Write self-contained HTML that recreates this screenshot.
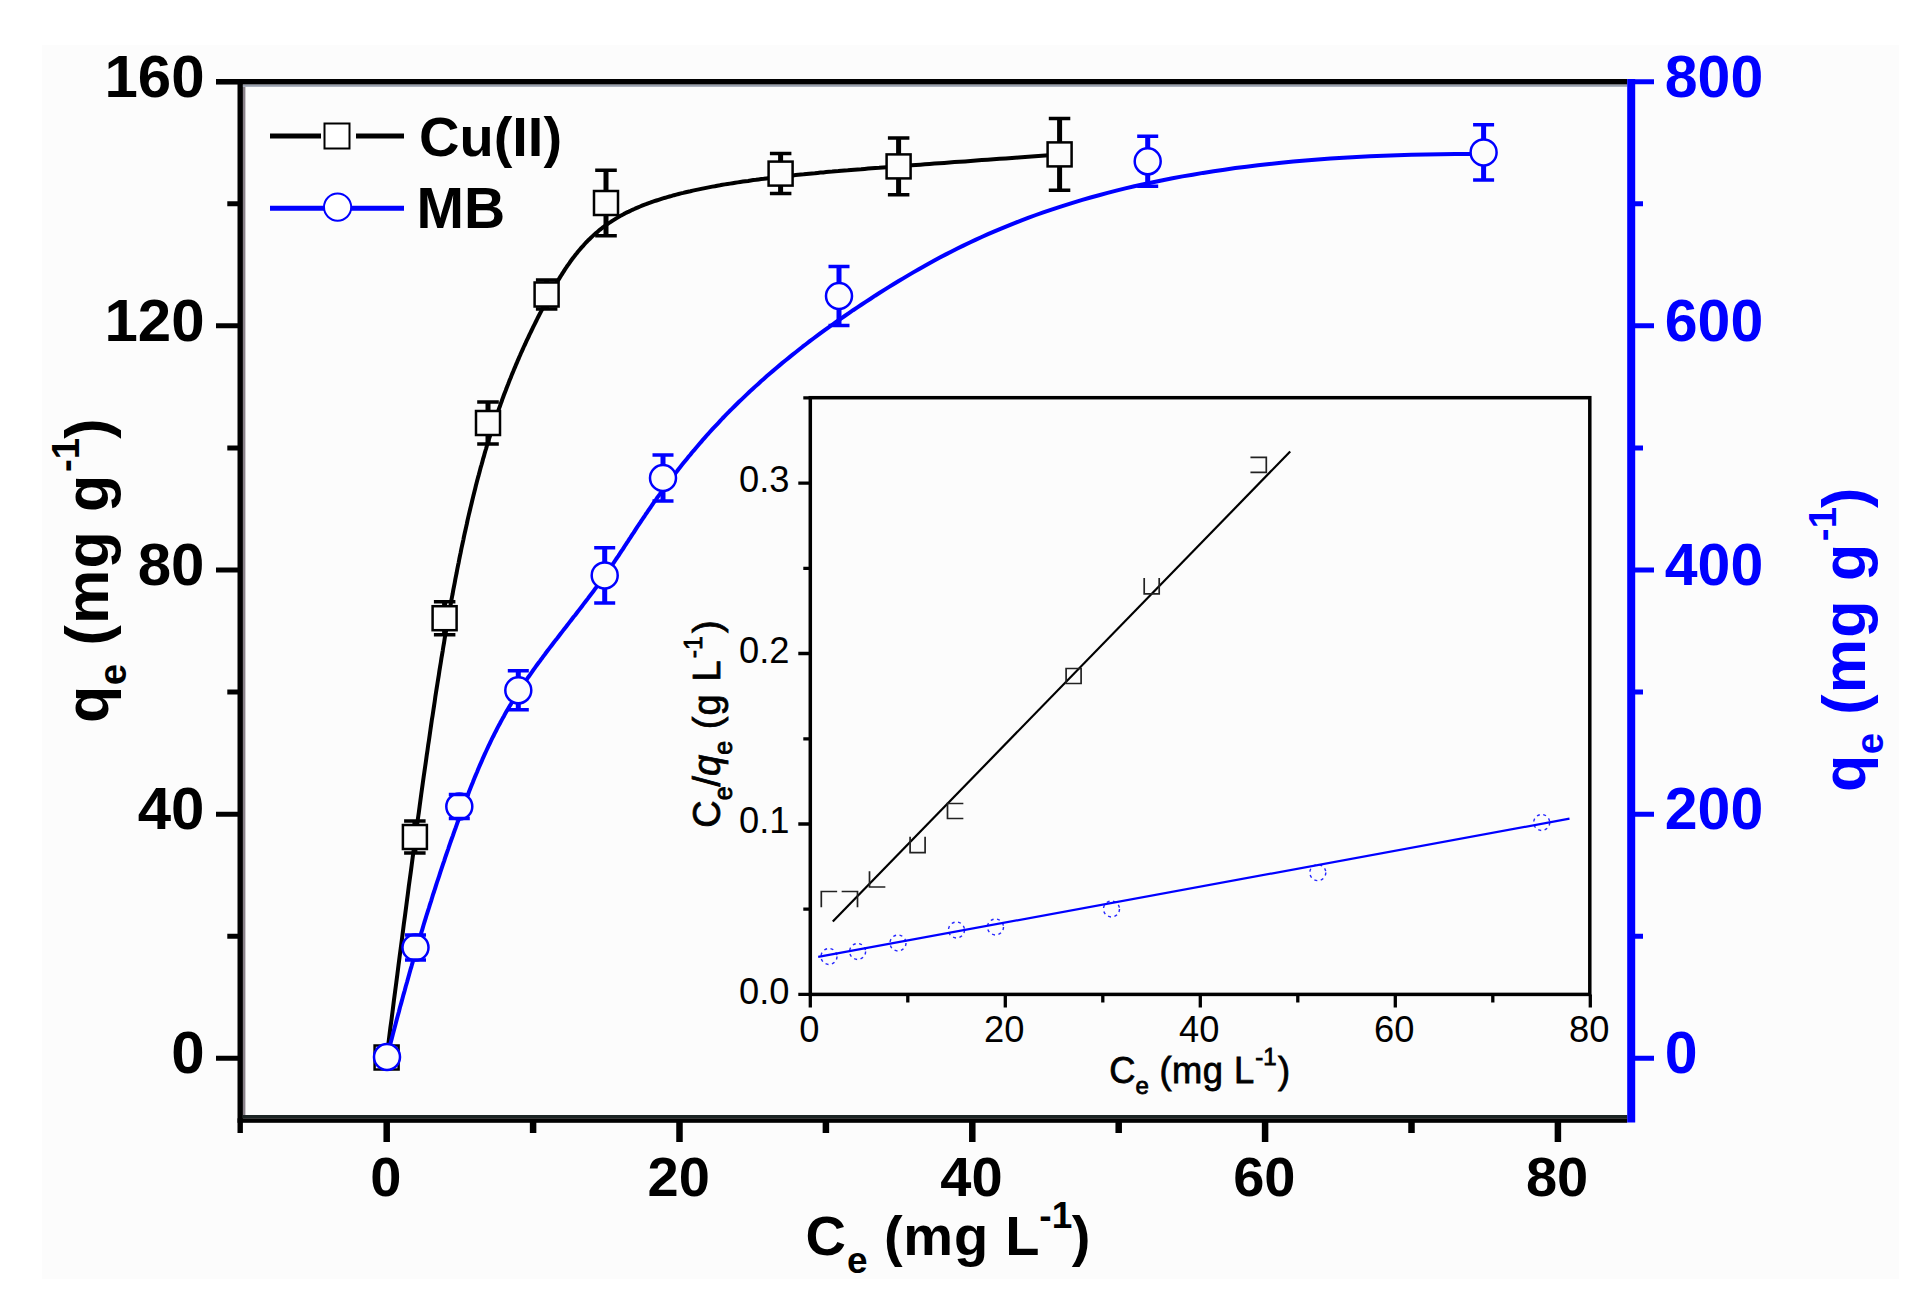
<!DOCTYPE html>
<html><head><meta charset="utf-8"><title>Isotherm</title>
<style>html,body{margin:0;padding:0;background:#fff;overflow:hidden}svg{display:block}</style>
</head><body>
<svg width="1920" height="1310" viewBox="0 0 1920 1310">
<rect width="1920" height="1310" fill="#ffffff"/>
<rect x="42" y="45" width="1857" height="1234" fill="#fcfcfc"/>
<path d="M386.6 1057.5L387.9 1047.6L389.1 1037.9L390.3 1028.3L391.6 1018.9L392.8 1009.6L393.9 1000.5L395.1 991.5L396.3 982.6L397.4 973.9L398.5 965.3L399.6 956.8L400.7 948.5L401.8 940.3L402.8 932.2L403.8 924.2L404.9 916.4L405.9 908.7L406.9 901.1L407.9 893.6L408.8 886.3L409.8 879.0L410.8 871.9L411.7 864.9L412.6 858.0L413.5 851.2L414.4 844.5L415.3 837.9L416.2 831.4L417.1 825.0L417.9 818.7L418.8 812.6L419.6 806.5L420.4 800.4L421.2 794.5L422.0 788.7L422.8 783.0L423.6 777.3L424.4 771.7L425.2 766.2L426.0 760.8L426.7 755.5L427.5 750.3L428.2 745.1L429.0 740.0L429.7 734.9L430.4 730.0L431.1 725.1L431.8 720.2L432.6 715.5L433.3 710.8L434.0 706.1L434.7 701.5L435.3 697.0L436.0 692.5L436.7 688.1L437.4 683.7L438.1 679.4L438.8 675.1L439.4 670.9L440.1 666.7L440.8 662.5L441.4 658.4L442.1 654.3L442.8 650.3L443.4 646.3L444.1 642.3L444.7 638.4L445.4 634.5L446.1 630.6L446.7 626.8L447.4 623.0L448.0 619.2L448.7 615.4L449.4 611.7L450.0 608.0L450.7 604.3L451.3 600.7L452.0 597.0L452.7 593.5L453.3 589.9L454.0 586.4L454.7 582.8L455.3 579.4L456.0 575.9L456.7 572.5L457.3 569.1L458.0 565.7L458.7 562.3L459.3 559.0L460.0 555.7L460.7 552.4L461.3 549.2L462.0 545.9L462.7 542.7L463.4 539.6L464.0 536.4L464.7 533.3L465.4 530.2L466.1 527.1L466.8 524.0L467.4 521.0L468.1 517.9L468.8 514.9L469.5 512.0L470.2 509.0L470.9 506.1L471.6 503.2L472.3 500.3L473.0 497.4L473.7 494.5L474.4 491.7L475.1 488.9L475.8 486.1L476.5 483.3L477.2 480.6L477.9 477.9L478.7 475.1L479.4 472.4L480.1 469.8L480.8 467.1L481.6 464.5L482.3 461.9L483.0 459.2L483.8 456.7L484.5 454.1L485.2 451.5L486.0 449.0L486.7 446.5L487.5 444.0L488.2 441.5L489.0 439.0L489.8 436.6L490.5 434.1L491.3 431.7L492.1 429.3L492.8 426.9L493.6 424.5L494.4 422.1L495.2 419.8L496.0 417.4L496.8 415.1L497.6 412.8L498.4 410.5L499.2 408.2L500.0 406.0L500.8 403.7L501.6 401.5L502.4 399.2L503.2 397.0L504.0 394.8L504.8 392.7L505.7 390.5L506.5 388.3L507.3 386.2L508.2 384.0L509.0 381.9L509.8 379.8L510.7 377.7L511.5 375.6L512.3 373.6L513.2 371.5L514.0 369.5L514.9 367.4L515.7 365.4L516.6 363.4L517.4 361.4L518.3 359.4L519.1 357.4L520.0 355.5L520.8 353.5L521.7 351.6L522.6 349.7L523.4 347.8L524.3 345.8L525.2 344.0L526.0 342.1L526.9 340.2L527.8 338.3L528.7 336.5L529.5 334.6L530.4 332.8L531.3 331.0L532.2 329.2L533.0 327.4L533.9 325.6L534.8 323.8L535.7 322.0L536.6 320.3L537.4 318.5L538.3 316.8L539.2 315.0L540.1 313.3L541.0 311.6L541.9 309.9L542.7 308.2L543.6 306.5L544.5 304.8L545.4 303.2L546.3 301.5L547.2 299.8L548.1 298.2L549.0 296.6L549.8 294.9L550.7 293.3L551.6 291.7L552.5 290.1L553.4 288.5L554.3 286.9L555.2 285.3L556.1 283.8L557.0 282.2L558.0 280.7L558.9 279.1L559.8 277.6L560.7 276.1L561.7 274.6L562.6 273.1L563.6 271.6L564.5 270.1L565.5 268.6L566.5 267.2L567.5 265.7L568.5 264.3L569.5 262.9L570.5 261.4L571.5 260.0L572.5 258.6L573.6 257.3L574.6 255.9L575.7 254.5L576.8 253.2L577.9 251.8L579.0 250.5L580.1 249.2L581.2 247.9L582.4 246.6L583.6 245.3L584.7 244.0L585.9 242.7L587.1 241.5L588.3 240.2L589.6 239.0L590.8 237.8L592.1 236.6L593.4 235.4L594.7 234.2L596.0 233.1L597.4 231.9L598.7 230.8L600.1 229.6L601.5 228.5L602.9 227.4L604.4 226.3L605.9 225.2L607.3 224.2L608.8 223.1L610.4 222.1L611.9 221.1L613.5 220.1L615.1 219.1L616.7 218.1L618.4 217.1L620.0 216.1L621.7 215.2L623.5 214.3L625.2 213.3L627.0 212.4L628.8 211.6L630.6 210.7L632.4 209.8L634.3 209.0L636.2 208.1L638.1 207.3L640.1 206.5L642.0 205.7L644.0 204.9L646.0 204.2L648.1 203.4L650.1 202.7L652.2 201.9L654.3 201.2L656.4 200.5L658.6 199.8L660.7 199.1L662.9 198.4L665.1 197.8L667.3 197.1L669.5 196.5L671.8 195.9L674.0 195.2L676.3 194.6L678.6 194.0L680.9 193.4L683.3 192.9L685.6 192.3L688.0 191.7L690.4 191.2L692.7 190.6L695.1 190.1L697.6 189.6L700.0 189.1L702.4 188.6L704.9 188.1L707.4 187.6L709.8 187.1L712.3 186.6L714.8 186.2L717.3 185.7L719.9 185.3L722.4 184.8L724.9 184.4L727.5 184.0L730.0 183.6L732.6 183.2L735.2 182.8L737.7 182.4L740.3 182.0L742.9 181.6L745.5 181.2L748.1 180.9L750.7 180.5L753.3 180.1L756.0 179.8L758.6 179.4L761.2 179.1L763.8 178.8L766.5 178.4L769.1 178.1L771.8 177.8L774.4 177.5L777.0 177.2L779.7 176.9L782.3 176.5L785.0 176.3L787.6 176.0L790.3 175.7L792.9 175.4L795.6 175.1L798.3 174.8L801.0 174.5L803.7 174.3L806.4 174.0L809.2 173.7L812.0 173.4L814.8 173.2L817.6 172.9L820.4 172.6L823.3 172.4L826.2 172.1L829.2 171.8L832.2 171.6L835.2 171.3L838.3 171.1L841.4 170.8L844.6 170.5L847.8 170.3L851.0 170.0L854.3 169.7L857.7 169.4L861.1 169.2L864.6 168.9L868.1 168.6L871.7 168.3L875.3 168.0L879.1 167.8L882.9 167.5L886.7 167.2L890.6 166.9L894.7 166.6L898.7 166.3L902.9 165.9L907.1 165.6L911.5 165.3L915.9 165.0L920.4 164.7L924.9 164.3L929.6 164.0L934.4 163.6L939.3 163.3L944.2 162.9L949.3 162.5L954.4 162.1L959.7 161.8L965.1 161.4L970.5 161.0L976.1 160.6L981.8 160.1L987.6 159.7L993.5 159.3L999.6 158.8L1005.7 158.4L1012.0 157.9L1018.4 157.5L1025.0 157.0L1031.6 156.5L1038.4 156.0L1045.3 155.5L1052.4 154.9L1059.6 154.4L1059.6 154.4" fill="none" stroke="#000000" stroke-width="4" stroke-linejoin="round"/>
<rect x="374.6" y="1045.5" width="24" height="24" fill="#fcfcfc" stroke="#000" stroke-width="2.5"/>
<rect x="402.9" y="825.0" width="24" height="24" fill="#fcfcfc" stroke="#000" stroke-width="2.5"/>
<rect x="432.6" y="606.2" width="24" height="24" fill="#fcfcfc" stroke="#000" stroke-width="2.5"/>
<rect x="476.0" y="411.0" width="24" height="24" fill="#fcfcfc" stroke="#000" stroke-width="2.5"/>
<rect x="534.6" y="282.5" width="24" height="24" fill="#fcfcfc" stroke="#000" stroke-width="2.5"/>
<rect x="594.0" y="191.0" width="24" height="24" fill="#fcfcfc" stroke="#000" stroke-width="2.5"/>
<rect x="768.6" y="161.6" width="24" height="24" fill="#fcfcfc" stroke="#000" stroke-width="2.5"/>
<rect x="886.6" y="154.4" width="24" height="24" fill="#fcfcfc" stroke="#000" stroke-width="2.5"/>
<rect x="1047.6" y="142.4" width="24" height="24" fill="#fcfcfc" stroke="#000" stroke-width="2.5"/>
<path d="M414.9 821.0V825.0M414.9 849.0V853.0" stroke="#000000" stroke-width="5" fill="none"/>
<path d="M404.1 821.0H425.6M404.1 853.0H425.6" stroke="#000000" stroke-width="3.5" fill="none"/>
<path d="M444.6 601.7V606.2M444.6 630.2V634.7" stroke="#000000" stroke-width="5" fill="none"/>
<path d="M433.9 601.7H455.4M433.9 634.7H455.4" stroke="#000000" stroke-width="3.5" fill="none"/>
<path d="M488.0 402.0V411.0M488.0 435.0V444.0" stroke="#000000" stroke-width="5" fill="none"/>
<path d="M477.2 402.0H498.8M477.2 444.0H498.8" stroke="#000000" stroke-width="3.5" fill="none"/>
<path d="M546.6 280.0V282.5M546.6 306.5V309.0" stroke="#000000" stroke-width="5" fill="none"/>
<path d="M535.9 280.0H557.4M535.9 309.0H557.4" stroke="#000000" stroke-width="3.5" fill="none"/>
<path d="M606.0 170.3V191.0M606.0 215.0V235.7" stroke="#000000" stroke-width="5" fill="none"/>
<path d="M595.2 170.3H616.8M595.2 235.7H616.8" stroke="#000000" stroke-width="3.5" fill="none"/>
<path d="M780.6 153.6V161.6M780.6 185.6V193.6" stroke="#000000" stroke-width="5" fill="none"/>
<path d="M769.9 153.6H791.4M769.9 193.6H791.4" stroke="#000000" stroke-width="3.5" fill="none"/>
<path d="M898.6 138.1V154.4M898.6 178.4V194.7" stroke="#000000" stroke-width="5" fill="none"/>
<path d="M887.9 138.1H909.4M887.9 194.7H909.4" stroke="#000000" stroke-width="3.5" fill="none"/>
<path d="M1059.6 118.6V142.4M1059.6 166.4V190.2" stroke="#000000" stroke-width="5" fill="none"/>
<path d="M1048.8 118.6H1070.3M1048.8 190.2H1070.3" stroke="#000000" stroke-width="3.5" fill="none"/>
<path d="M387.0 1057.0L388.2 1052.3L389.4 1047.6L390.6 1043.0L391.8 1038.4L393.0 1033.8L394.2 1029.3L395.4 1024.8L396.5 1020.4L397.7 1016.0L398.9 1011.7L400.0 1007.3L401.2 1003.1L402.4 998.8L403.5 994.6L404.7 990.5L405.8 986.3L407.0 982.3L408.1 978.2L409.2 974.2L410.3 970.2L411.5 966.3L412.6 962.4L413.7 958.5L414.8 954.7L415.9 950.9L417.0 947.1L418.1 943.4L419.2 939.7L420.3 936.0L421.4 932.4L422.5 928.8L423.5 925.3L424.6 921.7L425.7 918.2L426.7 914.8L427.8 911.4L428.9 908.0L429.9 904.6L431.0 901.3L432.0 898.0L433.0 894.7L434.1 891.5L435.1 888.3L436.1 885.1L437.1 882.0L438.2 878.8L439.2 875.8L440.2 872.7L441.2 869.7L442.2 866.7L443.2 863.7L444.2 860.8L445.1 857.9L446.1 855.0L447.1 852.1L448.1 849.3L449.0 846.5L450.0 843.7L450.9 841.0L451.9 838.3L452.9 835.6L453.8 832.9L454.7 830.3L455.7 827.7L456.6 825.1L457.5 822.5L458.5 820.0L459.4 817.4L460.3 814.9L461.2 812.5L462.1 810.0L463.0 807.6L463.9 805.2L464.8 802.8L465.7 800.5L466.6 798.1L467.5 795.8L468.4 793.5L469.2 791.3L470.1 789.0L471.0 786.8L471.9 784.6L472.8 782.4L473.6 780.2L474.5 778.0L475.4 775.9L476.3 773.8L477.2 771.7L478.0 769.6L478.9 767.5L479.8 765.4L480.7 763.4L481.6 761.4L482.4 759.4L483.3 757.4L484.2 755.4L485.1 753.4L486.0 751.5L486.9 749.5L487.8 747.6L488.7 745.7L489.6 743.8L490.5 741.9L491.4 740.0L492.3 738.1L493.3 736.3L494.2 734.4L495.1 732.6L496.1 730.7L497.0 728.9L497.9 727.1L498.9 725.3L499.9 723.5L500.8 721.7L501.8 719.9L502.8 718.1L503.8 716.4L504.7 714.6L505.7 712.8L506.7 711.1L507.8 709.3L508.8 707.6L509.8 705.8L510.9 704.1L511.9 702.4L513.0 700.6L514.0 698.9L515.1 697.2L516.2 695.5L517.3 693.7L518.4 692.0L519.5 690.3L520.6 688.6L521.8 686.8L522.9 685.1L524.1 683.4L525.2 681.7L526.4 680.0L527.6 678.2L528.8 676.5L530.0 674.8L531.2 673.1L532.4 671.4L533.6 669.7L534.9 667.9L536.1 666.2L537.3 664.5L538.6 662.8L539.9 661.1L541.1 659.4L542.4 657.7L543.7 655.9L545.0 654.2L546.2 652.5L547.5 650.8L548.8 649.1L550.1 647.4L551.4 645.7L552.7 644.0L554.0 642.3L555.3 640.6L556.7 638.9L558.0 637.2L559.3 635.5L560.6 633.8L561.9 632.1L563.2 630.4L564.5 628.7L565.9 627.0L567.2 625.3L568.5 623.6L569.8 621.9L571.1 620.2L572.4 618.5L573.7 616.8L575.1 615.2L576.4 613.5L577.7 611.8L579.0 610.1L580.3 608.4L581.6 606.8L582.8 605.1L584.1 603.4L585.4 601.7L586.7 600.1L588.0 598.4L589.2 596.7L590.5 595.1L591.7 593.4L593.0 591.8L594.2 590.1L595.4 588.4L596.7 586.8L597.9 585.1L599.1 583.5L600.3 581.9L601.5 580.2L602.7 578.6L603.8 576.9L605.0 575.3L606.2 573.7L607.3 572.0L608.4 570.4L609.6 568.8L610.7 567.2L611.8 565.5L612.9 563.9L614.0 562.3L615.1 560.7L616.2 559.0L617.3 557.4L618.4 555.8L619.5 554.1L620.5 552.5L621.6 550.9L622.7 549.3L623.8 547.6L624.8 546.0L625.9 544.3L627.0 542.7L628.1 541.1L629.1 539.4L630.2 537.8L631.3 536.1L632.4 534.4L633.5 532.8L634.6 531.1L635.7 529.4L636.8 527.7L637.9 526.0L639.0 524.3L640.2 522.6L641.3 520.9L642.5 519.2L643.6 517.5L644.8 515.8L645.9 514.0L647.1 512.3L648.3 510.5L649.5 508.8L650.8 507.0L652.0 505.2L653.2 503.4L654.5 501.6L655.8 499.8L657.0 498.0L658.4 496.1L659.7 494.3L661.0 492.4L662.4 490.6L663.7 488.7L665.1 486.8L666.5 484.9L668.0 483.0L669.4 481.1L670.9 479.1L672.4 477.2L673.9 475.2L675.4 473.2L677.0 471.2L678.5 469.2L680.1 467.2L681.8 465.1L683.4 463.1L685.1 461.0L686.8 458.9L688.5 456.8L690.3 454.7L692.0 452.5L693.9 450.4L695.7 448.2L697.6 446.0L699.5 443.8L701.4 441.6L703.3 439.3L705.3 437.1L707.3 434.8L709.4 432.5L711.5 430.2L713.6 427.9L715.8 425.6L718.0 423.3L720.2 420.9L722.4 418.5L724.7 416.1L727.1 413.7L729.4 411.3L731.9 408.9L734.3 406.5L736.8 404.0L739.3 401.5L741.9 399.1L744.5 396.6L747.1 394.1L749.8 391.5L752.6 389.0L755.4 386.4L758.2 383.9L761.0 381.3L764.0 378.7L766.9 376.1L769.9 373.5L773.0 370.9L776.1 368.2L779.2 365.6L782.4 362.9L785.7 360.3L789.0 357.6L792.3 354.9L795.7 352.2L799.1 349.5L802.6 346.7L806.2 344.0L809.8 341.2L813.4 338.5L817.2 335.7L820.9 332.9L824.7 330.1L828.6 327.3L832.5 324.5L836.5 321.6L840.6 318.8L844.7 316.0L848.9 313.1L853.1 310.2L857.4 307.4L861.7 304.5L866.1 301.6L870.6 298.7L875.1 295.7L879.7 292.8L884.3 289.9L889.1 286.9L893.8 284.0L898.7 281.0L903.6 278.1L908.6 275.1L913.7 272.1L918.8 269.2L924.1 266.2L929.4 263.2L934.8 260.3L940.3 257.3L945.9 254.4L951.6 251.5L957.4 248.5L963.3 245.6L969.3 242.7L975.4 239.9L981.7 237.0L988.0 234.2L994.5 231.4L1001.1 228.6L1007.8 225.8L1014.6 223.1L1021.6 220.3L1028.7 217.7L1035.9 215.0L1043.3 212.4L1050.8 209.8L1058.4 207.3L1066.2 204.8L1074.2 202.3L1082.3 199.9L1090.6 197.5L1099.0 195.2L1107.6 192.9L1116.3 190.6L1125.3 188.4L1134.4 186.3L1143.6 184.2L1153.1 182.2L1162.7 180.2L1172.5 178.3L1182.5 176.4L1192.7 174.7L1203.0 172.9L1213.6 171.3L1224.4 169.7L1235.3 168.1L1246.5 166.7L1257.9 165.3L1269.5 164.0L1281.2 162.7L1293.3 161.5L1305.5 160.5L1317.9 159.5L1330.6 158.5L1343.5 157.7L1356.6 156.9L1370.0 156.3L1383.6 155.7L1397.4 155.2L1411.5 154.8L1425.8 154.5L1440.4 154.3L1455.2 154.1L1470.3 154.1L1485.6 154.2L1485.6 154.2" fill="none" stroke="#0000ff" stroke-width="4" stroke-linejoin="round"/>
<circle cx="387.0" cy="1057.0" r="13" fill="#fcfcfc" stroke="#0000ff" stroke-width="2.5"/>
<circle cx="415.5" cy="947.5" r="13" fill="#fcfcfc" stroke="#0000ff" stroke-width="2.5"/>
<circle cx="459.3" cy="806.5" r="13" fill="#fcfcfc" stroke="#0000ff" stroke-width="2.5"/>
<circle cx="518.3" cy="690.3" r="13" fill="#fcfcfc" stroke="#0000ff" stroke-width="2.5"/>
<circle cx="604.7" cy="575.4" r="13" fill="#fcfcfc" stroke="#0000ff" stroke-width="2.5"/>
<circle cx="663.0" cy="478.0" r="13" fill="#fcfcfc" stroke="#0000ff" stroke-width="2.5"/>
<circle cx="839.0" cy="296.0" r="13" fill="#fcfcfc" stroke="#0000ff" stroke-width="2.5"/>
<circle cx="1147.7" cy="161.3" r="13" fill="#fcfcfc" stroke="#0000ff" stroke-width="2.5"/>
<circle cx="1483.6" cy="152.4" r="13" fill="#fcfcfc" stroke="#0000ff" stroke-width="2.5"/>
<path d="M405.0 935.0H426.0M405.0 960.0H426.0" stroke="#0000ff" stroke-width="3.5" fill="none"/>
<path d="M448.8 794.5H469.8M448.8 818.5H469.8" stroke="#0000ff" stroke-width="3.5" fill="none"/>
<path d="M518.3 670.8V677.3M518.3 703.3V709.8" stroke="#0000ff" stroke-width="5" fill="none"/>
<path d="M507.8 670.8H528.8M507.8 709.8H528.8" stroke="#0000ff" stroke-width="3.5" fill="none"/>
<path d="M604.7 547.7V562.4M604.7 588.4V603.1" stroke="#0000ff" stroke-width="5" fill="none"/>
<path d="M594.2 547.7H615.2M594.2 603.1H615.2" stroke="#0000ff" stroke-width="3.5" fill="none"/>
<path d="M663.0 455.0V465.0M663.0 491.0V501.0" stroke="#0000ff" stroke-width="5" fill="none"/>
<path d="M652.5 455.0H673.5M652.5 501.0H673.5" stroke="#0000ff" stroke-width="3.5" fill="none"/>
<path d="M839.0 266.5V283.0M839.0 309.0V325.5" stroke="#0000ff" stroke-width="5" fill="none"/>
<path d="M828.5 266.5H849.5M828.5 325.5H849.5" stroke="#0000ff" stroke-width="3.5" fill="none"/>
<path d="M1147.7 136.3V148.3M1147.7 174.3V186.3" stroke="#0000ff" stroke-width="5" fill="none"/>
<path d="M1137.2 136.3H1158.2M1137.2 186.3H1158.2" stroke="#0000ff" stroke-width="3.5" fill="none"/>
<path d="M1483.6 124.7V139.4M1483.6 165.4V180.1" stroke="#0000ff" stroke-width="5" fill="none"/>
<path d="M1473.1 124.7H1494.1M1473.1 180.1H1494.1" stroke="#0000ff" stroke-width="3.5" fill="none"/>
<rect x="242.9" y="86.8" width="2.5" height="1028.2" fill="#8a828a"/>
<rect x="237.5" y="79" width="5.4" height="1054" fill="#000"/>
<rect x="242.9" y="84.4" width="1384.3" height="2.4" fill="#98a0ae"/>
<rect x="216" y="79" width="1411.2" height="5.4" fill="#000"/>
<rect x="242.9" y="1115" width="1384.3" height="3.3" fill="#1c2424"/>
<rect x="237.5" y="1118.3" width="1389.7" height="4.5" fill="#000"/>
<path d="M216.0 1058.30H238.0M227.3 936.22H238.0M216.0 814.14H238.0M227.3 692.06H238.0M216.0 569.98H238.0M227.3 447.90H238.0M216.0 325.82H238.0M227.3 203.74H238.0M216.0 81.66H238.0" stroke="#000" stroke-width="5" fill="none"/>
<path d="M386.70 1122.0V1142.0M533.10 1122.0V1133.0M679.50 1122.0V1142.0M825.90 1122.0V1133.0M972.30 1122.0V1142.0M1118.70 1122.0V1133.0M1265.10 1122.0V1142.0M1411.50 1122.0V1133.0M1557.90 1122.0V1142.0" stroke="#000" stroke-width="6.5" fill="none"/>
<path d="M1634.0 1058.30H1654.0M1634.0 936.22H1643.0M1634.0 814.14H1654.0M1634.0 692.06H1643.0M1634.0 569.98H1654.0M1634.0 447.90H1643.0M1634.0 325.82H1654.0M1634.0 203.74H1643.0M1634.0 81.66H1654.0" stroke="#0000ff" stroke-width="5" fill="none"/>
<rect x="1627.2" y="79" width="8" height="1043.5" fill="#0000ff"/>
<g font-family="Liberation Sans, Arial, sans-serif" font-weight="bold" font-size="60">
<text x="204.5" y="1073.3" text-anchor="end">0</text>
<text x="204.5" y="829.1" text-anchor="end">40</text>
<text x="204.5" y="585.0" text-anchor="end">80</text>
<text x="204.5" y="340.8" text-anchor="end">120</text>
<text x="204.5" y="96.7" text-anchor="end">160</text>
</g>
<g font-family="Liberation Sans, Arial, sans-serif" font-weight="bold" font-size="56">
<text x="385.9" y="1196.3" text-anchor="middle">0</text>
<text x="678.7" y="1196.3" text-anchor="middle">20</text>
<text x="971.5" y="1196.3" text-anchor="middle">40</text>
<text x="1264.3" y="1196.3" text-anchor="middle">60</text>
<text x="1557.1" y="1196.3" text-anchor="middle">80</text>
</g>
<g font-family="Liberation Sans, Arial, sans-serif" font-weight="bold" font-size="59" fill="#0000ff">
<text x="1664.8" y="1073.1">0</text>
<text x="1664.8" y="828.9">200</text>
<text x="1664.8" y="584.8">400</text>
<text x="1664.8" y="340.6">600</text>
<text x="1664.8" y="96.5">800</text>
</g>
<text x="805.5" y="1255.0" font-family="Liberation Sans, Arial, sans-serif" font-weight="bold" font-size="56" fill="#000">C<tspan font-size="37" dx="1" dy="18">e</tspan><tspan dx="0" dy="-18" letter-spacing="0.8"> (mg L</tspan><tspan font-size="37" dx="-1" dy="-27.5">-1</tspan><tspan dx="-0.5" dy="27.5">)</tspan></text>
<text x="107.6" y="722.9" font-family="Liberation Sans, Arial, sans-serif" font-weight="bold" font-size="61" fill="#000" transform="rotate(-90 107.6 722.9)">q<tspan font-size="38.5" dx="0.5" dy="18.6">e</tspan><tspan dx="0" dy="-18.6" letter-spacing="1.2"> (mg g</tspan><tspan font-size="38.5" dx="1.5" dy="-29">-1</tspan><tspan dx="-1" dy="29">)</tspan></text>
<text x="1864.8" y="792.0" font-family="Liberation Sans, Arial, sans-serif" font-weight="bold" font-size="61" fill="#0000ff" transform="rotate(-90 1864.8 792.0)">q<tspan font-size="38.5" dx="0.5" dy="18.6">e</tspan><tspan dx="0" dy="-18.6" letter-spacing="1.2"> (mg g</tspan><tspan font-size="38.5" dx="1.5" dy="-29">-1</tspan><tspan dx="-1" dy="29">)</tspan></text>
<path d="M270 136H321M356 136H404" stroke="#000" stroke-width="5" fill="none"/>
<rect x="324.5" y="123.5" width="25" height="25" fill="#fff" stroke="#000" stroke-width="2"/>
<path d="M270 208.3H324M351 208.3H404" stroke="#0000ff" stroke-width="5" fill="none"/>
<circle cx="337.6" cy="207.1" r="13.6" fill="#fff" stroke="#0000ff" stroke-width="2"/>
<text x="419" y="156.2" font-family="Liberation Sans, Arial, sans-serif" font-weight="bold" font-size="56">Cu(II)</text>
<text x="416.5" y="227.5" font-family="Liberation Sans, Arial, sans-serif" font-weight="bold" font-size="57">MB</text>
<rect x="810.3" y="397.7" width="779.5" height="596.7" fill="#fcfcfc" stroke="none"/>
<path d="M832.8 921.5L1290.2 451.5" stroke="#000" stroke-width="2.2"/>
<path d="M818.2 956.9L1569.5 818.7" stroke="#0000ff" stroke-width="2.2"/>
<path d="M821.3 891.5H836.3M821.3 891.5V906.5" fill="none" stroke="#222" stroke-width="1.7" stroke-linecap="square"/>
<path d="M842.5 891.5H857.5M857.5 891.5V906.5" fill="none" stroke="#222" stroke-width="1.7" stroke-linecap="square"/>
<path d="M869.5 887.0H884.5M869.5 872.0V887.0" fill="none" stroke="#222" stroke-width="1.7" stroke-linecap="square"/>
<path d="M910.1 852.7H925.1M910.1 837.7V852.7M925.1 837.7V852.7" fill="none" stroke="#222" stroke-width="1.7" stroke-linecap="square"/>
<path d="M947.5 803.5H962.5M947.5 818.5H962.5M947.5 803.5V818.5" fill="none" stroke="#222" stroke-width="1.7" stroke-linecap="square"/>
<path d="M1066.1 668.5H1081.1M1066.1 683.5H1081.1M1066.1 668.5V683.5M1081.1 668.5V683.5" fill="none" stroke="#222" stroke-width="1.7" stroke-linecap="square"/>
<path d="M1144.2 593.9H1159.2M1144.2 578.9V593.9M1159.2 578.9V593.9" fill="none" stroke="#222" stroke-width="1.7" stroke-linecap="square"/>
<path d="M1251.3 457.3H1266.3M1251.3 472.3H1266.3M1266.3 457.3V472.3" fill="none" stroke="#222" stroke-width="1.7" stroke-linecap="square"/>
<circle cx="829.0" cy="956.5" r="8" fill="none" stroke="#0000ff" stroke-width="1.4" stroke-dasharray="3 3.5" opacity="0.85"/>
<circle cx="857.6" cy="951.5" r="8" fill="none" stroke="#0000ff" stroke-width="1.4" stroke-dasharray="3 3.5" opacity="0.85"/>
<circle cx="898.0" cy="943.0" r="8" fill="none" stroke="#0000ff" stroke-width="1.4" stroke-dasharray="3 3.5" opacity="0.85"/>
<circle cx="956.5" cy="930.0" r="8" fill="none" stroke="#0000ff" stroke-width="1.4" stroke-dasharray="3 3.5" opacity="0.85"/>
<circle cx="995.5" cy="927.0" r="8" fill="none" stroke="#0000ff" stroke-width="1.4" stroke-dasharray="3 3.5" opacity="0.85"/>
<circle cx="1111.5" cy="909.0" r="8" fill="none" stroke="#0000ff" stroke-width="1.4" stroke-dasharray="3 3.5" opacity="0.85"/>
<circle cx="1317.8" cy="872.6" r="8" fill="none" stroke="#0000ff" stroke-width="1.4" stroke-dasharray="3 3.5" opacity="0.85"/>
<circle cx="1541.7" cy="822.5" r="8" fill="none" stroke="#0000ff" stroke-width="1.4" stroke-dasharray="3 3.5" opacity="0.85"/>
<path d="M798.3 994.4H810.3M803.3 909.2H810.3M798.3 824.0H810.3M803.3 738.8H810.3M798.3 653.5H810.3M803.3 568.3H810.3M798.3 483.1H810.3M803.3 397.9H810.3M810.3 994.4V1007.4M907.8 994.4V1002.4M1005.3 994.4V1007.4M1102.8 994.4V1002.4M1200.3 994.4V1007.4M1297.8 994.4V1002.4M1395.3 994.4V1007.4M1492.8 994.4V1002.4M1590.3 994.4V1007.4" stroke="#000" stroke-width="3.3" fill="none"/>
<rect x="810.3" y="397.7" width="779.5" height="596.7" fill="none" stroke="#000" stroke-width="3.5"/>
<g font-family="Liberation Sans, Arial, sans-serif" font-size="36.3">
<text x="789.5" y="1003.7" text-anchor="end">0.0</text>
<text x="789.5" y="833.3" text-anchor="end">0.1</text>
<text x="789.5" y="662.8" text-anchor="end">0.2</text>
<text x="789.5" y="492.4" text-anchor="end">0.3</text>
<text x="809.3" y="1042" text-anchor="middle">0</text>
<text x="1004.3" y="1042" text-anchor="middle">20</text>
<text x="1199.3" y="1042" text-anchor="middle">40</text>
<text x="1394.3" y="1042" text-anchor="middle">60</text>
<text x="1589.3" y="1042" text-anchor="middle">80</text>
</g>
<text x="1109.3" y="1082.5" font-family="Liberation Sans, Arial, sans-serif" font-weight="normal" font-size="36.3" fill="#000" stroke="#000" stroke-width="0.8">C<tspan font-size="24" dx="0" dy="11.5">e</tspan><tspan dx="0" dy="-11.5" letter-spacing="0.5"> (mg L</tspan><tspan font-size="24" dx="0.5" dy="-18">-1</tspan><tspan dx="1.5" dy="18">)</tspan></text>
<text x="720.5" y="827.8" transform="rotate(-90 720.5 827.8)" font-family="Liberation Sans, Arial, sans-serif" font-size="38" stroke="#000" stroke-width="0.8">C<tspan font-size="25" dy="11.5">e</tspan><tspan dy="-11.5">/</tspan><tspan font-style="italic">q</tspan><tspan font-size="25" dy="11.5">e</tspan><tspan dy="-11.5" letter-spacing="1.1"> (g L</tspan><tspan font-size="25" dx="1" dy="-18">-1</tspan><tspan dx="3" dy="18">)</tspan></text>
</svg>
</body></html>
